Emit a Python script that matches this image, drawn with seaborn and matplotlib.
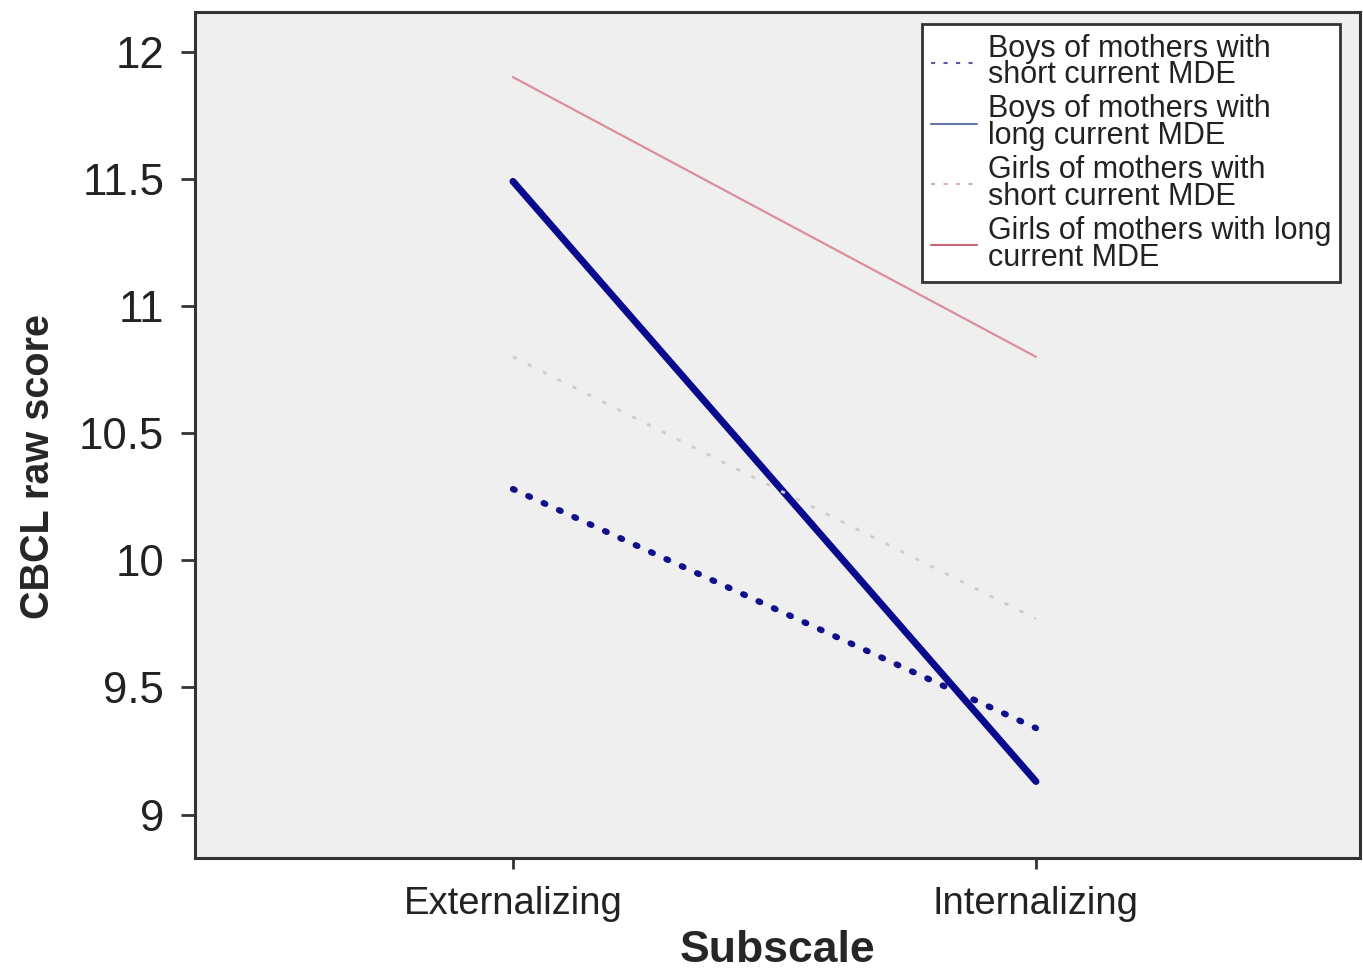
import matplotlib
matplotlib.use("Agg")
import matplotlib.pyplot as plt
import pandas as pd
import seaborn as sns

# Values
subscales = ["Externalizing", "Internalizing"]
groups = [
    "Boys of mothers with\nshort current MDE",
    "Boys of mothers with\nlong current MDE",
    "Girls of mothers with\nshort current MDE",
    "Girls of mothers with long\ncurrent MDE",
]
boys_short = [10.28, 9.34]
boys_long = [11.49, 9.13]
girls_short = [10.80, 9.77]
girls_long = [11.90, 10.80]

series = [boys_short, boys_long, girls_short, girls_long]
rows = []
for grp, vals in zip(groups, series):
    for i, v in enumerate(vals):
        rows.append({"Group": grp, "pos": i, "Subscale": subscales[i], "score": v})
df = pd.DataFrame(rows)

sns.set_theme(style="white")
plt.rcParams["font.family"] = ["Liberation Sans", "DejaVu Sans"]

styles = {
    groups[0]: dict(color="#10108a", lw=4.5, ls=(0, (0.3, 2.4)), cap="round"),
    groups[1]: dict(color="#0a0a8c", lw=5.0, ls="-"),
    groups[2]: dict(color="#d4caca", lw=2.0, ls=(0, (1.5, 4.5))),
    groups[3]: dict(color="#dc8e9c", lw=1.6, ls="-"),
}
legend_styles = {
    groups[0]: dict(color="#5a5aa0", lw=1.5, ls=(0, (2, 4))),
    groups[1]: dict(color="#6677aa", lw=1.5, ls="-"),
    groups[2]: dict(color="#d8b0b8", lw=1.5, ls=(0, (2, 4))),
    groups[3]: dict(color="#c86478", lw=1.5, ls="-"),
}

fig, ax = plt.subplots(figsize=(13.63, 9.77), dpi=100)
fig.subplots_adjust(left=0.143, right=0.998, top=0.988, bottom=0.122)
ax.set_facecolor("#efefef")

for grp in groups:
    sub = df[df["Group"] == grp]
    st = styles[grp]
    sns.lineplot(data=sub, x="pos", y="score", ax=ax, color=st["color"],
                 linewidth=st["lw"], linestyle=st["ls"], legend=False)
    if "cap" in st:
        ax.lines[-1].set_dash_capstyle(st["cap"])

handles = []
for grp in groups:
    st = legend_styles[grp]
    h, = ax.plot([], [], color=st["color"], linewidth=st["lw"], linestyle=st["ls"])
    handles.append(h)

leg = ax.legend(handles, groups, loc="upper right", bbox_to_anchor=(0.983, 0.985),
                fontsize=22, frameon=True, fancybox=False, handlelength=1.5,
                handletextpad=0.35, labelspacing=0.13, borderpad=0.3,
                borderaxespad=0)
leg.get_frame().set_edgecolor("#333333")
leg.get_frame().set_linewidth(2)
leg.get_frame().set_facecolor("white")
leg.get_frame().set_alpha(1)
for t in leg.get_texts():
    t.set_linespacing(0.86)
    t.set_color("#222222")

ax.set_xlim(-0.608, 1.62)
ax.set_ylim(8.83, 12.157)
ax.set_xticks(range(len(subscales)))
ax.set_xticklabels(subscales)
ax.set_yticks([9, 9.5, 10, 10.5, 11, 11.5, 12])
ax.set_yticklabels(["9", "9.5", "10", "10.5", "11", "11.5", "12"])

ax.tick_params(axis="y", labelsize=31.5, length=10, width=2, color="#333333",
               direction="out", left=True, pad=12, labelcolor="#222222")
ax.tick_params(axis="x", labelsize=27.5, length=8, width=2, color="#333333",
               direction="out", bottom=True, pad=12, labelcolor="#222222")

ax.set_xlabel("Subscale", fontsize=32, fontweight="bold", labelpad=6)
ax.set_ylabel("CBCL raw score", fontsize=28.5, fontweight="bold")
ax.yaxis.set_label_coords(-0.118, 0.462)

for side in ["left", "bottom", "top", "right"]:
    ax.spines[side].set_color("#333333")
    ax.spines[side].set_linewidth(2.2)
    ax.spines[side].set_visible(True)

fig.savefig("out.png", dpi=100, facecolor="white")
